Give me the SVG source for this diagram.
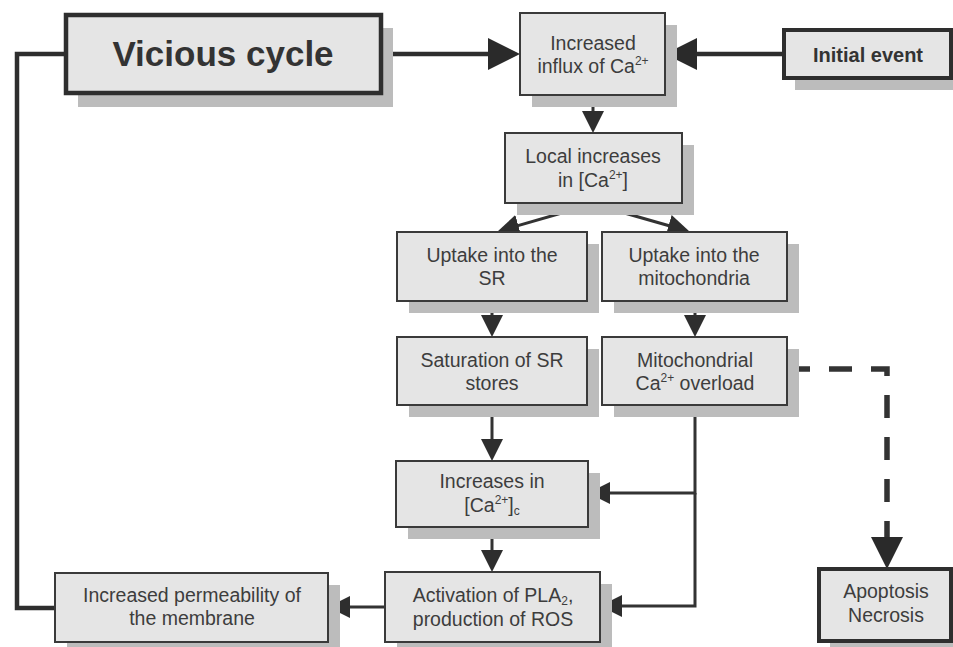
<svg xmlns="http://www.w3.org/2000/svg" width="953" height="647" viewBox="0 0 953 647">
<defs>
<style>
.box{fill:#e5e5e5;stroke:#3a3a3a;stroke-width:2}
.thick{stroke-width:4.5;stroke:#2e2e2e}
.sh{fill:#bcbcbc}
.t{font-family:"Liberation Sans",Arial,sans-serif;font-size:19.5px;fill:#3d3d3d;text-anchor:middle}
.b{font-weight:bold;fill:#333}
.c{fill:none;stroke:#333;stroke-width:3}
.ct{fill:none;stroke:#2e2e2e;stroke-width:4.5}
.cd{fill:none;stroke:#333;stroke-width:5.5;stroke-dasharray:23 19}
.sup{font-size:12px}
</style>
<marker id="a" markerUnits="userSpaceOnUse" markerWidth="22" markerHeight="22" viewBox="0 0 22 22" refX="16" refY="11" orient="auto">
<path d="M0,0 L22,11 L0,22 z" fill="#2e2e2e"/>
</marker>
<marker id="A" markerUnits="userSpaceOnUse" markerWidth="32" markerHeight="32" viewBox="0 0 32 32" refX="24" refY="16" orient="auto">
<path d="M0,0 L32,16 L0,32 z" fill="#2a2a2a"/>
</marker>
</defs>

<g id="connectors">
<line class="ct" x1="383" y1="54" x2="512" y2="54" marker-end="url(#A)"/>
<line class="ct" x1="783" y1="54" x2="673" y2="54" marker-end="url(#A)"/>
<line class="c" x1="593" y1="95" x2="593" y2="127" marker-end="url(#a)"/>
<line class="c" x1="593" y1="204" x2="503" y2="230" marker-end="url(#a)"/>
<line class="c" x1="593" y1="204" x2="684" y2="230" marker-end="url(#a)"/>
<line class="c" x1="492" y1="301" x2="492" y2="331" marker-end="url(#a)"/>
<line class="c" x1="695" y1="301" x2="695" y2="331" marker-end="url(#a)"/>
<line class="c" x1="492" y1="405" x2="492" y2="455" marker-end="url(#a)"/>
<polyline class="c" points="695,405 695,493 594,493" marker-end="url(#a)"/>
<polyline class="c" points="695,493 695,606 606,606" marker-end="url(#a)"/>
<line class="c" x1="492" y1="527" x2="492" y2="566" marker-end="url(#a)"/>
<line class="c" x1="385" y1="607" x2="334" y2="607" marker-end="url(#a)"/>
<polyline class="ct" points="55,608 17,608 17,54 66,54"/>
<polyline class="cd" points="787,369 887,369 887,561" marker-end="url(#A)"/>
</g>

<g id="vicious">
<rect class="sh" x="78" y="28" width="315" height="79"/>
<rect class="box thick" x="66" y="15" width="315" height="78"/>
<text class="t b" x="223" y="66" style="font-size:35px">Vicious cycle</text>
</g>

<g id="influx">
<rect class="sh" x="532" y="25" width="145" height="82"/>
<rect class="box" x="520" y="13" width="145" height="82"/>
<text class="t" x="593" y="50">Increased</text>
<text class="t" x="593" y="73">influx of Ca<tspan class="sup" dy="-8">2+</tspan></text>
</g>

<g id="initial">
<rect class="sh" x="795" y="42" width="169" height="48"/>
<rect class="box" style="stroke-width:4;stroke:#2e2e2e" x="784" y="30" width="167" height="48"/>
<text class="t b" x="868" y="62" style="font-size:20px">Initial event</text>
</g>

<g id="local">
<rect class="sh" x="517" y="145" width="177" height="70"/>
<rect class="box" x="505" y="133" width="177" height="70"/>
<text class="t" x="593" y="163">Local increases</text>
<text class="t" x="593" y="187">in [Ca<tspan class="sup" dy="-8">2+</tspan><tspan dy="8">]</tspan></text>
</g>

<g id="uptakeSR">
<rect class="sh" x="409" y="244" width="190" height="69"/>
<rect class="box" x="397" y="232" width="190" height="69"/>
<text class="t" x="492" y="262">Uptake into the</text>
<text class="t" x="492" y="285">SR</text>
</g>

<g id="uptakeMito">
<rect class="sh" x="614" y="244" width="185" height="69"/>
<rect class="box" x="602" y="232" width="185" height="69"/>
<text class="t" x="694" y="262">Uptake into the</text>
<text class="t" x="694" y="285">mitochondria</text>
</g>

<g id="saturation">
<rect class="sh" x="409" y="349" width="190" height="68"/>
<rect class="box" x="397" y="337" width="190" height="68"/>
<text class="t" x="492" y="367">Saturation of SR</text>
<text class="t" x="492" y="390">stores</text>
</g>

<g id="mito">
<rect class="sh" x="614" y="349" width="185" height="68"/>
<rect class="box" x="602" y="337" width="185" height="68"/>
<text class="t" x="695" y="367">Mitochondrial</text>
<text class="t" x="695" y="390">Ca<tspan class="sup" dy="-8">2+</tspan><tspan dy="8"> overload</tspan></text>
</g>

<g id="increases">
<rect class="sh" x="408" y="473" width="192" height="66"/>
<rect class="box" x="396" y="461" width="192" height="66"/>
<text class="t" x="492" y="488">Increases in</text>
<text class="t" x="492" y="512">[Ca<tspan class="sup" dy="-8">2+</tspan><tspan dy="8">]</tspan><tspan class="sup" dy="3">c</tspan></text>
</g>

<g id="activation">
<rect class="sh" x="397" y="584" width="215" height="70"/>
<rect class="box" x="385" y="572" width="215" height="70"/>
<text class="t" x="493" y="602">Activation of PLA<tspan class="sup" dy="3">2</tspan><tspan dy="-3">,</tspan></text>
<text class="t" x="493" y="626">production of ROS</text>
</g>

<g id="permeability">
<rect class="sh" x="67" y="585" width="273" height="69"/>
<rect class="box" x="55" y="573" width="273" height="69"/>
<text class="t" x="192" y="602">Increased permeability of</text>
<text class="t" x="192" y="625">the membrane</text>
</g>

<g id="apoptosis">
<rect class="sh" x="830" y="581" width="134" height="73"/>
<rect class="box" style="stroke-width:4;stroke:#2e2e2e" x="819" y="569" width="132" height="72"/>
<text class="t" x="886" y="598">Apoptosis</text>
<text class="t" x="886" y="622">Necrosis</text>
</g>
</svg>
